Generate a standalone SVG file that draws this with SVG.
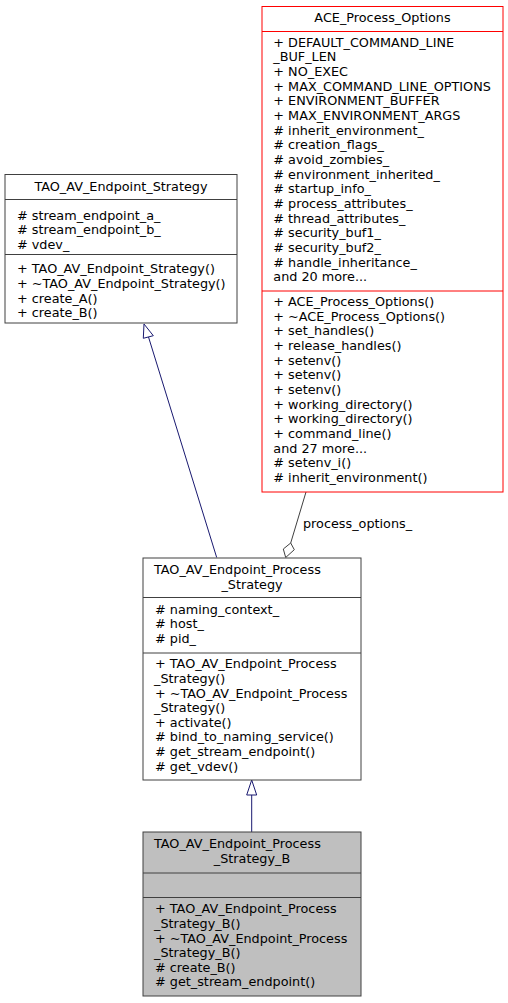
<svg xmlns="http://www.w3.org/2000/svg" width="508" height="1003" viewBox="0 0 508 1003">
<style>
text{font-family:"DejaVu Sans","Liberation Sans",sans-serif;font-size:12.8px;fill:#000}
.c{text-anchor:middle}
.box{fill:#fff;stroke:#404040;stroke-width:1}
.red{fill:#fff;stroke:#ff0000;stroke-width:1}
.grey{fill:#bfbfbf;stroke:#404040;stroke-width:1}
.ln{stroke:#404040;stroke-width:1}
.lr{stroke:#ff0000;stroke-width:1}
.inh{stroke:#191970;stroke-width:1;fill:none}
.tri{stroke:#191970;stroke-width:1;fill:#fff}
.agg{stroke:#404040;stroke-width:1;fill:none}
.dia{stroke:#404040;stroke-width:1;fill:#fff}
</style>
<g id="connectors">
<path class="inh" d="M216.7,557.5 L148.5,337"/>
<polygon class="tri" points="144,324 143.3,338.3 153.3,335.7"/>
<path class="inh" d="M251.7,832 L251.7,795"/>
<polygon class="tri" points="251.7,780 246.7,795 256.7,795"/>
<path class="agg" d="M306,492 L290.7,543"/>
<polygon class="dia" points="290.7,543 294.3,549.7 285.7,557.5 283.3,549"/>
<text x="303" y="528">process_options_</text>
</g>
<g id="TAO_AV_Endpoint_Strategy">
<rect class="box" x="5" y="174.5" width="232" height="148.5"/>
<line class="ln" x1="5" y1="199.5" x2="237" y2="199.5"/>
<line class="ln" x1="5" y1="254.5" x2="237" y2="254.5"/>
<text class="c" x="121" y="190.7">TAO_AV_Endpoint_Strategy</text>
<text x="17" y="219.7"># stream_endpoint_a_</text>
<text x="17" y="234.3"># stream_endpoint_b_</text>
<text x="17" y="248.9"># vdev_</text>
<text x="17" y="273.3">+ TAO_AV_Endpoint_Strategy()</text>
<text x="17" y="287.9">+ ~TAO_AV_Endpoint_Strategy()</text>
<text x="17" y="302.5">+ create_A()</text>
<text x="17" y="317.1">+ create_B()</text>
</g>
<g id="ACE_Process_Options">
<rect class="red" x="262" y="6.5" width="241" height="485.5"/>
<line class="lr" x1="262" y1="31.5" x2="503" y2="31.5"/>
<line class="lr" x1="262" y1="291" x2="503" y2="291"/>
<text class="c" x="382.5" y="21.5">ACE_Process_Options</text>
<text x="273.3" y="46.5">+ DEFAULT_COMMAND_LINE</text>
<text x="273.3" y="61.2">_BUF_LEN</text>
<text x="273.3" y="75.8">+ NO_EXEC</text>
<text x="273.3" y="90.5">+ MAX_COMMAND_LINE_OPTIONS</text>
<text x="273.3" y="105.2">+ ENVIRONMENT_BUFFER</text>
<text x="273.3" y="119.8">+ MAX_ENVIRONMENT_ARGS</text>
<text x="273.3" y="134.5"># inherit_environment_</text>
<text x="273.3" y="149.2"># creation_flags_</text>
<text x="273.3" y="163.9"># avoid_zombies_</text>
<text x="273.3" y="178.5"># environment_inherited_</text>
<text x="273.3" y="193.2"># startup_info_</text>
<text x="273.3" y="207.9"># process_attributes_</text>
<text x="273.3" y="222.5"># thread_attributes_</text>
<text x="273.3" y="237.2"># security_buf1_</text>
<text x="273.3" y="251.9"># security_buf2_</text>
<text x="273.3" y="266.5"># handle_inheritance_</text>
<text x="273.3" y="281.2">and 20 more...</text>
<text x="273.3" y="306">+ ACE_Process_Options()</text>
<text x="273.3" y="320.7">+ ~ACE_Process_Options()</text>
<text x="273.3" y="335.3">+ set_handles()</text>
<text x="273.3" y="350">+ release_handles()</text>
<text x="273.3" y="364.7">+ setenv()</text>
<text x="273.3" y="379.4">+ setenv()</text>
<text x="273.3" y="394">+ setenv()</text>
<text x="273.3" y="408.7">+ working_directory()</text>
<text x="273.3" y="423.4">+ working_directory()</text>
<text x="273.3" y="438">+ command_line()</text>
<text x="273.3" y="452.7">and 27 more...</text>
<text x="273.3" y="467.4"># setenv_i()</text>
<text x="273.3" y="482"># inherit_environment()</text>
</g>
<g id="TAO_AV_Endpoint_Process_Strategy">
<rect class="box" x="143" y="558" width="218" height="222"/>
<line class="ln" x1="143" y1="597.5" x2="361" y2="597.5"/>
<line class="ln" x1="143" y1="653" x2="361" y2="653"/>
<text x="154" y="574">TAO_AV_Endpoint_Process</text>
<text class="c" x="252" y="589">_Strategy</text>
<text x="155" y="613.5"># naming_context_</text>
<text x="155" y="628"># host_</text>
<text x="155" y="642.5"># pid_</text>
<text x="155" y="668.3">+ TAO_AV_Endpoint_Process</text>
<text x="154" y="682.9">_Strategy()</text>
<text x="155" y="697.5">+ ~TAO_AV_Endpoint_Process</text>
<text x="154" y="712.1">_Strategy()</text>
<text x="155" y="726.7">+ activate()</text>
<text x="155" y="741.3"># bind_to_naming_service()</text>
<text x="155" y="755.9"># get_stream_endpoint()</text>
<text x="155" y="770.5"># get_vdev()</text>
</g>
<g id="TAO_AV_Endpoint_Process_Strategy_B">
<rect class="grey" x="143" y="832" width="218" height="164"/>
<line class="ln" x1="143" y1="873" x2="361" y2="873"/>
<line class="ln" x1="143" y1="897.5" x2="361" y2="897.5"/>
<text x="154" y="848.3">TAO_AV_Endpoint_Process</text>
<text class="c" x="252" y="863">_Strategy_B</text>
<text x="155" y="913.3">+ TAO_AV_Endpoint_Process</text>
<text x="154" y="927.9">_Strategy_B()</text>
<text x="155" y="942.5">+ ~TAO_AV_Endpoint_Process</text>
<text x="154" y="957.1">_Strategy_B()</text>
<text x="155" y="971.7"># create_B()</text>
<text x="155" y="986.3"># get_stream_endpoint()</text>
</g>
</svg>
